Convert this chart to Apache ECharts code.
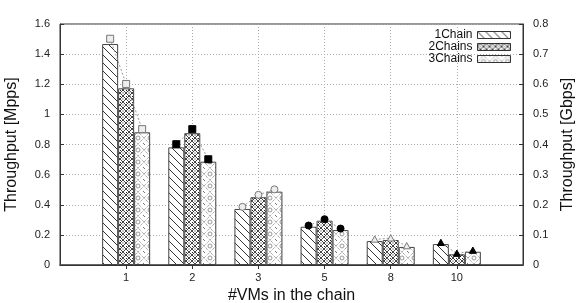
<!DOCTYPE html>
<html><head><meta charset="utf-8">
<script src="https://cdn.jsdelivr.net/npm/echarts@6/dist/echarts.min.js"></script>
<style>html,body{margin:0;padding:0;background:#fff}#c{width:584px;height:303px}</style>
</head><body><div id="c"></div><script>
const categories = ['1','2','3','5','8','10'];
const seriesNames = ['1Chain','2Chains','3Chains'];
const mpps1 = [1.467,0.781,0.372,0.254,0.159,0.139];
const mpps2 = [1.173,0.875,0.450,0.294,0.166,0.071];
const mpps3 = [0.881,0.686,0.487,0.232,0.120,0.088];
const gbps1 = [0.751,0.401,0.193,0.131,0.085,0.074];
const gbps2 = [0.601,0.451,0.233,0.152,0.089,0.038];
const gbps3 = [0.451,0.351,0.251,0.121,0.063,0.048];
const markerShapes = ['openSquare','square','openCircle','circle','openTriangle','triangle'];

const BAR_W = 16;
const FONT = 'Liberation Sans, Arial, sans-serif';

function tile(w, h, draw) {
  const c = document.createElement('canvas');
  c.width = w; c.height = h;
  const ctx = c.getContext('2d');
  ctx.fillStyle = '#fff'; ctx.fillRect(0, 0, w, h);
  draw(ctx);
  return c;
}
const pat1 = tile(8, 8, ctx => {
  ctx.strokeStyle = '#333'; ctx.lineWidth = 1;
  ctx.beginPath();
  ctx.moveTo(-1, -1); ctx.lineTo(9, 9);
  ctx.moveTo(-1, 7); ctx.lineTo(1, 9);
  ctx.moveTo(7, -1); ctx.lineTo(9, 1);
  ctx.stroke();
});
const pat2 = tile(6, 6, ctx => {
  ctx.strokeStyle = '#444'; ctx.lineWidth = 1;
  ctx.beginPath();
  ctx.moveTo(0, 3); ctx.lineTo(3, 0); ctx.lineTo(6, 3); ctx.lineTo(3, 6); ctx.closePath();
  ctx.stroke();
  ctx.fillStyle = '#222';
  ctx.fillRect(0, 0, 1, 1); ctx.fillRect(2.5, 2.5, 1, 1);
});
const pat3 = tile(12, 12, ctx => {
  ctx.strokeStyle = '#888'; ctx.lineWidth = 1;
  ctx.setLineDash([1, 1]);
  ctx.beginPath();
  ctx.moveTo(0, 6); ctx.lineTo(6, 0); ctx.lineTo(12, 6); ctx.lineTo(6, 12); ctx.closePath();
  ctx.stroke();
  ctx.setLineDash([]);
  ctx.beginPath(); ctx.arc(6, 6, 2, 0, Math.PI * 2); ctx.strokeStyle = '#999'; ctx.stroke();
  ctx.fillStyle = '#777';
  ctx.fillRect(0, 0, 1, 1); ctx.fillRect(11, 11, 1, 1);
});
const patterns = [pat1, pat2, pat3];

const xData = [''].concat(categories, ['']);
const pad = arr => [null].concat(arr, [null]);
const mppsAll = [mpps1, mpps2, mpps3];

const barSeries = mppsAll.map((arr, i) => ({
  name: seriesNames[i],
  type: 'bar',
  data: pad(arr),
  barWidth: BAR_W,
  barGap: '0%',
  itemStyle: { color: { image: patterns[i], repeat: 'repeat' }, borderColor: '#444', borderWidth: 1 },
  z: 2
}));

const markerData = categories.map((c, i) => [i + 1, gbps1[i], gbps2[i], gbps3[i], i]);

function drawMarker(shape, x, y) {
  const s = 3.5;
  const filled = !shape.startsWith('open');
  const style = filled ? { fill: '#000', stroke: '#000', lineWidth: 1 } : { fill: '#eee', stroke: '#777', lineWidth: 1 };
  const base = shape.replace('open', '').toLowerCase();
  if (base === 'square') return { type: 'rect', shape: { x: x - s, y: y - s, width: 2 * s, height: 2 * s }, style, z2: 5 };
  if (base === 'circle') return { type: 'circle', shape: { cx: x, cy: y, r: s }, style, z2: 5 };
  return { type: 'polygon', shape: { points: [[x, y - s], [x + s, y + s * 0.8], [x - s, y + s * 0.8]] }, style, z2: 5 };
}

const markerSeries = {
  type: 'custom',
  yAxisIndex: 1,
  data: markerData,
  z: 5,
  renderItem: (params, api) => {
    const idx = api.value(0);
    const cx = api.coord([idx, 0])[0];
    const pts = [1, 2, 3].map((k, j) => [cx + (j - 1) * BAR_W, api.coord([idx, api.value(k)])[1]]);
    const shape = markerShapes[api.value(4)];
    const children = [{ type: 'polyline', shape: { points: pts }, style: { stroke: '#999', lineWidth: 1, lineDash: [2, 2], fill: null }, z2: 4 }];
    pts.forEach(p => children.push(drawMarker(shape, p[0], p[1])));
    return { type: 'group', children };
  }
};

const chart = echarts.init(document.getElementById('c'), null, { renderer: 'canvas' });
chart.setOption({
  animation: false,
  backgroundColor: '#fff',
  textStyle: { fontFamily: FONT },
  grid: { left: 60, right: 61, top: 24, bottom: 38, outerBoundsMode: 'none', containLabel: false, show: true, borderColor: '#333', borderWidth: 1, backgroundColor: 'transparent' },
  legend: {
    data: seriesNames.map(n => ({ name: n, icon: 'rect' })),
    orient: 'vertical',
    right: 68, top: 24,
    align: 'right',
    itemWidth: 33, itemHeight: 7, itemGap: 0,
    textStyle: { fontSize: 12, lineHeight: 12, color: '#111', fontFamily: FONT },
    itemStyle: { borderColor: '#333', borderWidth: 1 }
  },
  xAxis: [{
    type: 'category', data: xData, boundaryGap: false,
    name: '#VMs in the chain', nameLocation: 'middle', nameGap: 19,
    nameTextStyle: { fontSize: 16, color: '#111', fontFamily: FONT },
    axisLine: { lineStyle: { color: '#555', width: 1.5 } },
    axisTick: { inside: true, length: 4, lineStyle: { color: '#333' }, interval: (i) => i > 0 && i < 7 },
    axisLabel: { fontSize: 11, color: '#222', margin: 7, interval: 0, fontFamily: FONT },
    splitLine: { show: true, interval: (i) => i > 0 && i < 7, lineStyle: { color: '#aaa', type: [1, 2] } }
  }, {
    type: 'category', data: xData, boundaryGap: false, position: 'top',
    axisLine: { lineStyle: { color: '#333' } },
    axisTick: { inside: true, length: 4, lineStyle: { color: '#333' }, interval: (i) => i > 0 && i < 7 },
    axisLabel: { show: false }, splitLine: { show: false }
  }],
  yAxis: [{
    type: 'value', min: 0, max: 1.6, interval: 0.2,
    name: 'Throughput [Mpps]', nameLocation: 'middle', nameGap: 40,
    nameTextStyle: { fontSize: 16, color: '#111', fontFamily: FONT },
    axisLine: { show: true, lineStyle: { color: '#333' } },
    axisTick: { show: true, inside: true, length: 4, lineStyle: { color: '#333' } },
    axisLabel: { fontSize: 11, color: '#222', margin: 10, fontFamily: FONT },
    splitLine: { show: true, lineStyle: { color: '#aaa', type: [1, 2] } }
  }, {
    type: 'value', min: 0, max: 0.8, interval: 0.1,
    name: 'Throughput [Gbps]', nameLocation: 'middle', nameGap: 37,
    nameTextStyle: { fontSize: 16, color: '#111', fontFamily: FONT },
    axisLine: { show: true, lineStyle: { color: '#333' } },
    axisTick: { show: true, inside: true, length: 4, lineStyle: { color: '#333' } },
    axisLabel: { fontSize: 11, color: '#222', margin: 10, fontFamily: FONT },
    splitLine: { show: false }
  }],
  series: barSeries.concat([markerSeries])
});
</script></body></html>
